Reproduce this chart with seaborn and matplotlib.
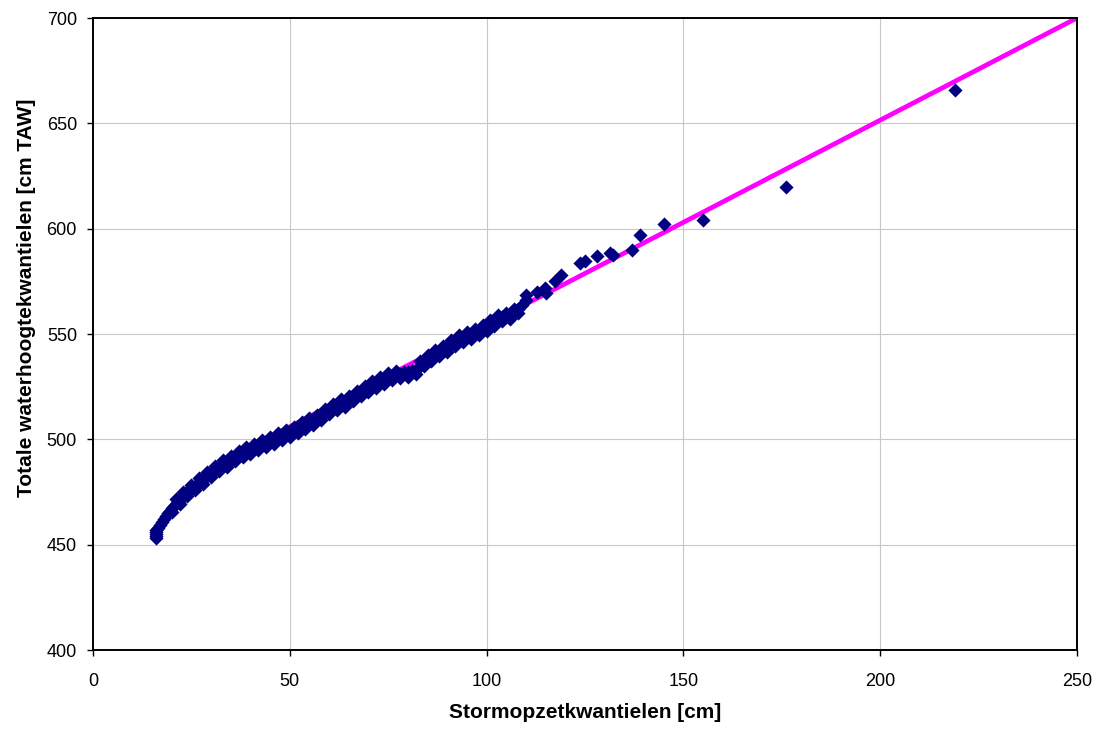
"""
Totale waterhoogtekwantielen vs stormopzetkwantielen (QQ-plot)
"""

import numpy as np
import pandas as pd
import matplotlib
matplotlib.use('Agg')
import matplotlib.pyplot as plt
import seaborn as sns

# ===========================
# DATA
# ===========================

# stormopzet quantiles [cm] - middle of the dense band + the sparse tail
stormopzet = [
    16, 16, 16, 16, 16, 16.5, 17, 17.5, 18, 18.5, 19, 19.5, 20, 20.5, 21, 21.5,
    22, 22.5, 23, 23.5, 24, 24.5, 25, 26, 27, 28, 29, 30, 31, 32, 33, 34, 35,
    36, 37, 38, 39, 40, 41, 42, 43, 44, 45, 46, 47, 48, 49, 50, 51, 52, 53, 54,
    55, 56, 57, 58, 59, 60, 61, 62, 63, 64, 65, 66, 67, 68, 69, 70, 71, 72, 73,
    74, 75, 76, 77, 78, 79, 80, 81, 82, 83, 84, 85, 86, 87, 88, 89, 90, 91, 92,
    93, 94, 95, 96, 97, 98, 99, 100, 101, 102, 103, 104, 105, 106, 107, 108,
    109, 110, 110, 112.7, 114.8, 115.1, 117.4, 119, 123.7, 124.9, 128, 131.3,
    132.2, 137, 139, 145, 155, 176, 219,
]

# total water level quantiles [cm TAW]
waterhoogte = [
    453, 454, 455, 456, 457, 458, 459.5, 461, 462, 463.5, 465, 466, 467.5,
    468.5, 469.5, 470.5, 471.5, 472, 473, 474, 475, 476, 476.5, 478, 479.5,
    481, 482.5, 484, 485.5, 487, 488, 489, 490.3, 491.5, 492.5, 493.5, 494.3,
    495.2, 496, 496.8, 497.6, 498.4, 499.2, 500, 500.8, 501.6, 502.4, 503.2,
    504, 505, 506, 507, 508, 509, 509.5, 511, 512.5, 514, 515, 516, 517, 517.5,
    518.5, 520, 521, 522.5, 523.5, 524.5, 525.5, 526.5, 527.5, 528.5, 529.5,
    530, 530.5, 531, 531.3, 531.8, 532.3, 533, 535, 537, 538, 539, 540.5,
    541.5, 542.5, 543.5, 545, 546.5, 547.5, 548, 549, 549.5, 550.5, 551.5,
    552.5, 553.5, 554.5, 556, 557, 558, 558, 559, 560, 562, 564, 566, 568.5,
    570, 571.7, 569.3, 575, 578, 583.5, 584.8, 586.8, 588.3, 587.5, 589.8, 597,
    602, 604, 620, 666,
]

# upper edge of the dense band
boven_x = [
    21, 23, 25, 27, 29, 31, 33, 35, 37, 39, 41, 43, 45, 47, 49, 51, 53, 55, 57,
    59, 61, 63, 65, 67, 69, 71, 73, 75, 77, 79, 81, 83, 85, 87, 89, 91, 93, 95,
    97, 99, 101, 103, 105, 107,
]
boven_y = [
    471.5, 475, 478.5, 481.5, 484.5, 487.5, 490, 492.3, 494.5, 496.3, 498,
    499.6, 501.2, 502.8, 504.4, 506, 508, 510, 511.5, 514.5, 517, 519, 520.5,
    523, 525.5, 527.5, 529.5, 531.5, 532.5, 532, 532.5, 537, 540, 542.5, 544.5,
    547, 549.5, 551, 552.5, 554.5, 556.5, 559, 560, 562,
]

# lower edge of the dense band
onder_x = [
    20, 22, 24, 26, 28, 30, 32, 34, 36, 38, 40, 42, 44, 46, 48, 50, 52, 54, 56,
    58, 60, 62, 64, 66, 68, 70, 72, 74, 76, 78, 80, 82, 84, 86, 88, 90, 92, 94,
    96, 98, 100, 102, 104, 106, 108,
]
onder_y = [
    465.5, 469.5, 473, 476, 479, 482, 485, 487, 489.5, 491.5, 493.2, 494.8,
    496.4, 498, 499.6, 501.2, 503, 505, 507, 509, 512, 514, 515.5, 518, 520.5,
    522.5, 524.5, 526.5, 528, 529, 529.8, 531, 535, 537, 539.5, 541.5, 544.5,
    546, 547.5, 549.5, 551.5, 554, 556, 557, 560,
]

# reference line (magenta)
lijn_x = [40, 250]
lijn_y = [496.3, 700]

x_ticks = [0, 50, 100, 150, 200, 250]
y_ticks = [400, 450, 500, 550, 600, 650, 700]

df = pd.DataFrame({
    'stormopzet': stormopzet + boven_x + onder_x,
    'waterhoogte': waterhoogte + boven_y + onder_y,
})
df_lijn = pd.DataFrame({'x': lijn_x, 'y': lijn_y})

# ===========================
# PLOT
# ===========================

sns.set_style('whitegrid')
plt.rcParams['font.family'] = ['Liberation Sans', 'DejaVu Sans']
plt.rcParams['text.color'] = 'black'
plt.rcParams['axes.labelcolor'] = 'black'
plt.rcParams['xtick.color'] = 'black'
plt.rcParams['ytick.color'] = 'black'

fig, ax = plt.subplots(figsize=(11.04, 7.32), dpi=100)
fig.subplots_adjust(left=0.0842, right=0.9755, top=0.9754, bottom=0.112)

sns.lineplot(data=df_lijn, x='x', y='y', ax=ax, color='#FF00FF',
             linewidth=3.4, zorder=2)
sns.scatterplot(data=df, x='stormopzet', y='waterhoogte', ax=ax,
                marker='D', s=52, color='#000080', linewidth=0, zorder=3)

ax.set_xlim(0, 250)
ax.set_ylim(400, 700)
ax.set_xticks(x_ticks)
ax.set_yticks(y_ticks)

ax.grid(True, color='#c8c8c8', linewidth=0.8)
for side in ['left', 'right', 'top', 'bottom']:
    ax.spines[side].set_visible(True)
    ax.spines[side].set_color('black')
    ax.spines[side].set_linewidth(1.4)

ax.tick_params(axis='both', which='major', labelsize=13, direction='out',
               length=4.5, width=1, color='black', labelcolor='black',
               left=True, bottom=True)
ax.tick_params(axis='x', pad=12)
ax.tick_params(axis='y', pad=7)

ax.set_xlabel('Stormopzetkwantielen [cm]', fontsize=15, fontweight='bold',
              color='black')
ax.set_ylabel('Totale waterhoogtekwantielen [cm TAW]', fontsize=15,
              fontweight='bold', color='black')
ax.xaxis.set_label_coords(0.5, -0.084)
ax.yaxis.set_label_coords(-0.058, 0.557)

plt.savefig('out.png', dpi=100)
print("Saved: out.png")
